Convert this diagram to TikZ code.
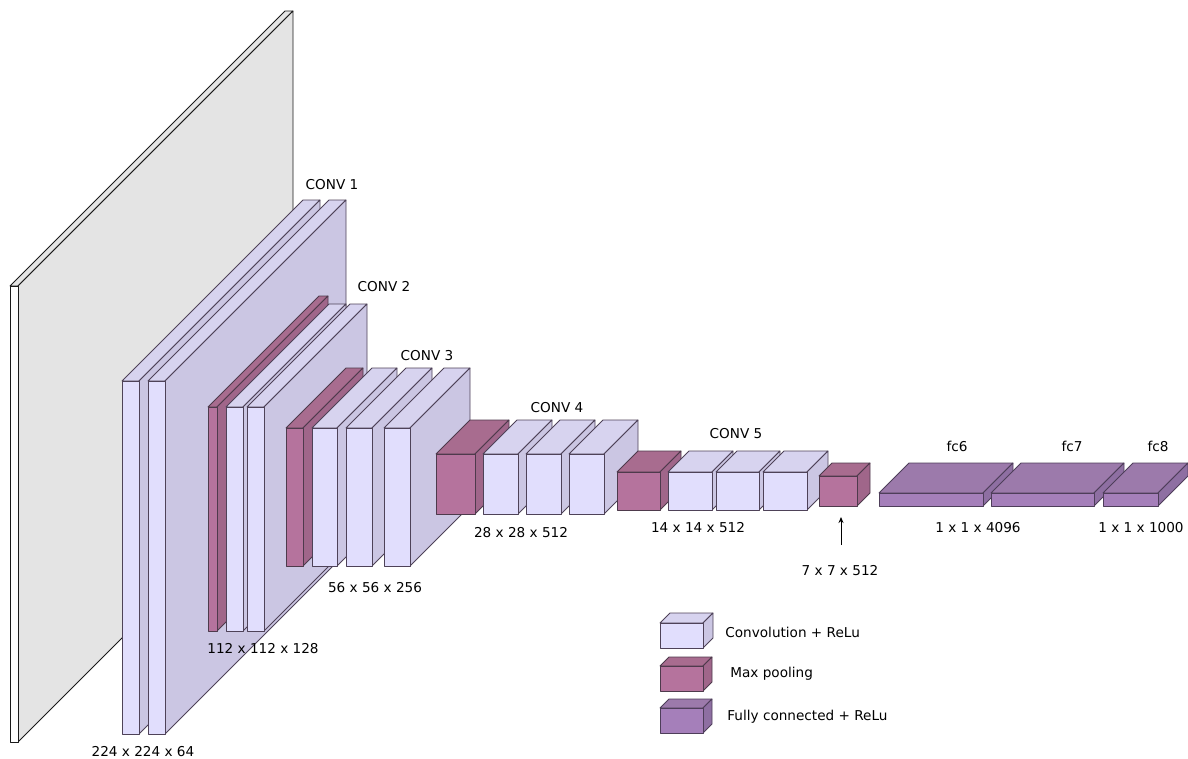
\documentclass[tikz,border=0pt]{standalone}
\usepackage{fontspec}
\setmainfont{DejaVu Sans}
\usetikzlibrary{arrows.meta}
\definecolor{imgF}{HTML}{FFFFFF}
\definecolor{imgT}{HTML}{E4E4E4}
\definecolor{imgS}{HTML}{E4E4E4}
\definecolor{imgE}{HTML}{1A1A1A}
\definecolor{convF}{HTML}{E1DEFD}
\definecolor{convT}{HTML}{D7D3EF}
\definecolor{convS}{HTML}{CBC6E3}
\definecolor{convE}{HTML}{4E4258}
\definecolor{poolF}{HTML}{B5739D}
\definecolor{poolT}{HTML}{A86C8F}
\definecolor{poolS}{HTML}{A0668A}
\definecolor{poolE}{HTML}{4E3A4C}
\definecolor{fcF}{HTML}{A57FBA}
\definecolor{fcT}{HTML}{9C7AAB}
\definecolor{fcS}{HTML}{8E6FA2}
\definecolor{fcE}{HTML}{4E3E5A}
\newcommand{\layerbox}[6]{%
  \filldraw[draw=#6E,fill=#6T] (#1,#2) -- ++(#5,-#5) -- ++(#3,0) -- ++(-#5,#5) -- cycle;
  \filldraw[draw=#6E,fill=#6S] (#1+#3,#2) -- ++(#5,-#5) -- ++(0,#4) -- ++(-#5,#5) -- cycle;
  \filldraw[draw=#6E,fill=#6F] (#1,#2) rectangle ++(#3,#4);
}
\tikzset{
  lbl/.style={font=\fontsize{13.6}{16}\selectfont, inner sep=0pt},
  keytext/.style={lbl, anchor=west}
}

\begin{document}
\begin{tikzpicture}[x=1pt,y=-1pt,line width=0.8pt,line join=round]
\useasboundingbox (0,0) rectangle (1188,758);
\layerbox{10}{286}{8}{456}{275}{img}
\layerbox{122}{381}{17}{353}{181}{conv}
\layerbox{148}{381}{17}{353}{181}{conv}
\layerbox{208}{407}{9}{224}{111}{pool}
\layerbox{226}{407}{17}{224}{103}{conv}
\layerbox{247}{407}{17}{224}{103}{conv}
\layerbox{286}{428}{17}{138}{60}{pool}
\layerbox{312}{428}{25}{138}{60}{conv}
\layerbox{346}{428}{26}{138}{60}{conv}
\layerbox{384}{428}{26}{138}{60}{conv}
\layerbox{436}{454}{39}{60}{34}{pool}
\layerbox{483}{454}{35}{60}{34}{conv}
\layerbox{526}{454}{35}{60}{34}{conv}
\layerbox{569}{454}{35}{60}{34}{conv}
\layerbox{617}{472}{43}{38}{21}{pool}
\layerbox{668}{472}{44}{38}{21}{conv}
\layerbox{716}{472}{43}{38}{21}{conv}
\layerbox{763}{472}{44}{38}{21}{conv}
\layerbox{819}{476}{38}{30}{13}{pool}
\layerbox{879}{493}{104}{13}{30}{fc}
\layerbox{991}{493}{103}{13}{30}{fc}
\layerbox{1103}{493}{55}{13}{30}{fc}
\node[lbl] (conv1) at (332,185) {CONV 1};
\node[lbl] (conv2) at (384,287) {CONV 2};
\node[lbl] (conv3) at (427,356) {CONV 3};
\node[lbl] (conv4) at (557,408) {CONV 4};
\node[lbl] (conv5) at (736,434) {CONV 5};
\node[lbl] (fc6) at (957,446) {fc6};
\node[lbl] (fc7) at (1072,446) {fc7};
\node[lbl] (fc8) at (1158,446) {fc8};
\node[lbl] (dim1) at (143,752) {224 x 224 x 64};
\node[lbl] (dim2) at (263,649) {112 x 112 x 128};
\node[lbl] (dim3) at (375,588) {56 x 56 x 256};
\node[lbl] (dim4) at (521,533) {28 x 28 x 512};
\node[lbl] (dim5) at (698,528) {14 x 14 x 512};
\node[lbl] (dim6) at (840,571) {7 x 7 x 512};
\node[lbl] (dim7) at (978,528) {1 x 1 x 4096};
\node[lbl] (dim8) at (1141,528) {1 x 1 x 1000};
\coordinate (arrtail) at (841,545);
\coordinate (arrhead) at (841,517);
\draw[line width=0.9pt,-{Stealth[length=6pt,width=5pt]}] (arrtail) -- (arrhead);
\layerbox{660}{623}{43}{25}{10}{conv}
\layerbox{660}{666}{43}{25}{9}{pool}
\layerbox{660}{708}{43}{25}{9}{fc}
\node[keytext] (keyconv) at (725,632) {Convolution + ReLu};
\node[keytext] (keypool) at (730,674) {Max pooling};
\node[keytext] (keyfc) at (727,717) {Fully connected + ReLu};
\end{tikzpicture}
\end{document}
